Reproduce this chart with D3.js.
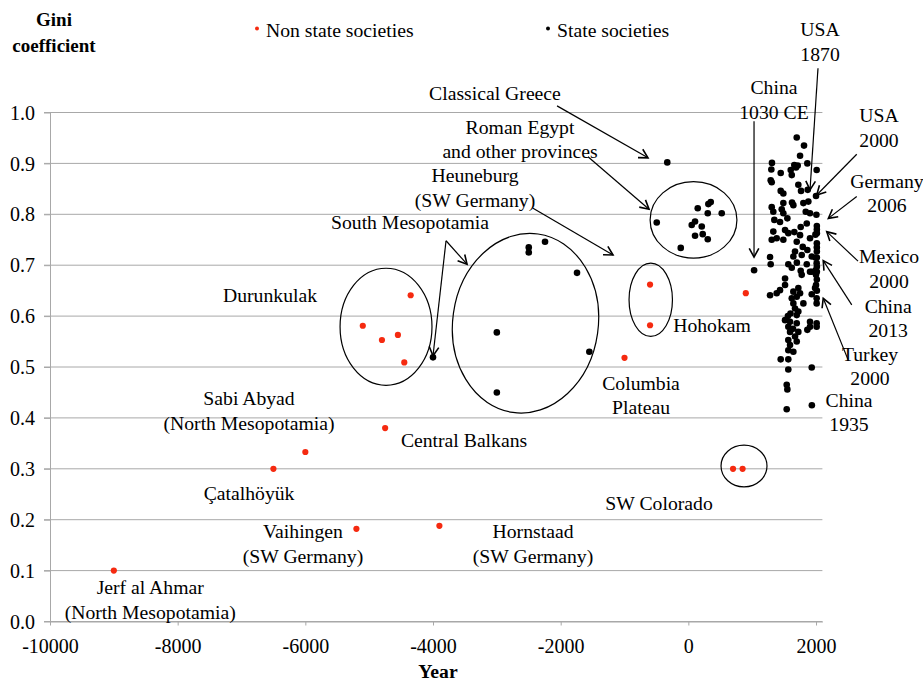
<!DOCTYPE html>
<html>
<head>
<meta charset="utf-8">
<script src="https://cdn.jsdelivr.net/npm/d3@7"></script>
<style>
  html, body { margin: 0; padding: 0; background: #fff; }
  svg { display: block; font-family: "Liberation Serif", "Times New Roman", serif; }
</style>
</head>
<body>
<svg id="chart" width="923" height="681"></svg>
<script>
// Gini coefficients of non state and state societies, by year
const xTicks = [-10000, -8000, -6000, -4000, -2000, 0, 2000];
const yTicks = [0, 0.1, 0.2, 0.3, 0.4, 0.5, 0.6, 0.7, 0.8, 0.9, 1.0];

// [year, gini]
const nonStateSocieties = [
  [-9000, 0.100], [-6500, 0.300], [-6000, 0.333], [-5200, 0.182],
  [-4750, 0.380], [-3900, 0.188],
  [-4350, 0.641], [-5100, 0.581], [-4800, 0.553], [-4550, 0.563], [-4450, 0.509],
  [-600, 0.662], [-600, 0.582], [-1000, 0.518], [900, 0.645],
  [700, 0.300], [850, 0.300]
];

const ancientStates = [
  [-330, 0.902],
  [-495, 0.784], [147, 0.812], [313, 0.820], [351, 0.824], [304, 0.802], [523, 0.802],
  [53, 0.779], [105, 0.786], [210, 0.776], [225, 0.761], [105, 0.758], [304, 0.751], [-119, 0.734],
  [-2245, 0.746], [-2500, 0.735], [-2500, 0.725], [-1744, 0.685], [-3000, 0.568],
  [-1551, 0.530], [-3000, 0.450], [-4000, 0.519],
  [1030, 0.690]
];

const modernStates = [
  [1698, 0.951], [1812, 0.935], [1750, 0.915], [1864, 0.900], [1660, 0.897], [1310, 0.901],
  [1300, 0.888], [1447, 0.881], [1604, 0.887], [1620, 0.877], [1687, 0.892], [1713, 0.896],
  [2010, 0.887], [1290, 0.867], [1306, 0.863], [1723, 0.858], [1765, 0.846], [1447, 0.846],
  [1488, 0.841], [1870, 0.848], [2000, 0.836], [1624, 0.823], [1645, 0.818], [1488, 0.822],
  [1880, 0.825], [1802, 0.822], [1306, 0.814], [1463, 0.810], [1331, 0.805], [1488, 0.802],
  [1839, 0.805], [1906, 0.802], [2006, 0.799], [1347, 0.789], [1436, 0.785], [1551, 0.792],
  [1855, 0.782], [2013, 0.777], [1331, 0.766], [1515, 0.769], [1566, 0.763], [1750, 0.759],
  [1906, 0.753], [2013, 0.763], [1384, 0.753], [1306, 0.750], [1488, 0.750], [1698, 0.746],
  [1792, 0.736], [1671, 0.727], [1864, 0.730], [2013, 0.743], [2013, 0.727], [1776, 0.720],
  [1933, 0.717], [1645, 0.717], [1280, 0.716], [1290, 0.702], [1566, 0.702], [1855, 0.702],
  [2010, 0.704], [1760, 0.689], [1933, 0.687], [2013, 0.687],
  [1515, 0.674], [1776, 0.681], [1906, 0.687], [2000, 0.681], [2000, 0.661], [1280, 0.641],
  [1384, 0.645], [1436, 0.651], [1515, 0.661], [1645, 0.648], [1723, 0.655], [1933, 0.643],
  [2010, 0.635], [1620, 0.635], [1698, 0.638], [1802, 0.625], [2010, 0.625], [1645, 0.625],
  [1671, 0.615], [1723, 0.609], [1698, 0.602], [1515, 0.592], [1593, 0.589], [1906, 0.589],
  [2010, 0.586], [1566, 0.579], [1698, 0.586], [1906, 0.579], [1864, 0.573], [2010, 0.579],
  [1593, 0.569], [1723, 0.569], [1671, 0.560], [1566, 0.553], [1698, 0.550], [1593, 0.543],
  [1566, 0.533], [1645, 0.530], [1447, 0.515], [1566, 0.515], [1566, 0.495], [1933, 0.499],
  [1541, 0.465], [1551, 0.456], [1541, 0.417], [1935, 0.425],
  [2013, 0.770], [2013, 0.735], [2013, 0.715], [2013, 0.697], [2013, 0.672], [2013, 0.650],
  [1990, 0.760], [1990, 0.715], [1995, 0.690], [1985, 0.655], [1660, 0.765], [1760, 0.775],
  [1620, 0.695], [1700, 0.705], [1750, 0.645], [1600, 0.605], [1640, 0.575], [1560, 0.600]
];
const stateSocieties = ancientStates.concat(modernStates);

// Circled groups: centre [year, gini], radii in years / gini, tilt in degrees
const groupRings = [
  { c: [-4736, 0.579], rx: 720, ry: 0.115, tilt: 0 },
  { c: [-2551, 0.586], rx: 1140, ry: 0.177, tilt: 8 },
  { c: [81, 0.789], rx: 680, ry: 0.075, tilt: 0 },
  { c: [-589, 0.632], rx: 340, ry: 0.072, tilt: 0 },
  { c: [872, 0.3055], rx: 360, ry: 0.041, tilt: 0 }
];

// Callout arrows: from [year, gini] to [year, gini]
const callouts = [
  { from: [-2057, 1.013], to: [-632, 0.911] },
  { from: [-1572, 0.913], to: [-616, 0.810] },
  { from: [-2433, 0.812], to: [-1180, 0.720] },
  { from: [-3796, 0.748], to: [-3467, 0.702] },
  { from: [-3796, 0.748], to: [-4000, 0.522] },
  { from: [1029, 0.983], to: [1029, 0.716] },
  { from: [2031, 1.087], to: [1906, 0.848] },
  { from: [2638, 0.918], to: [2011, 0.838] },
  { from: [2638, 0.835], to: [2193, 0.792] },
  { from: [2658, 0.708], to: [2168, 0.766] },
  { from: [2560, 0.622], to: [2113, 0.709] },
  { from: [2500, 0.515], to: [2113, 0.635] }
];

// Place names: anchor [year, gini] of the first baseline
const placeNames = [
  { at: [-3029, 1.025], lines: ["Classical Greece"] },
  { at: [-2637, 0.958], lines: ["Roman Egypt", "and other provinces"] },
  { at: [-3342, 0.863], lines: ["Heuneburg", "(SW Germany)"] },
  { at: [-4360, 0.771], lines: ["South Mesopotamia"] },
  { at: [-6553, 0.628], lines: ["Durunkulak"] },
  { at: [-6882, 0.425], lines: ["Sabi Abyad", "(North Mesopotamia)"] },
  { at: [-3514, 0.343], lines: ["Central Balkans"] },
  { at: [-6882, 0.239], lines: ["Çatalhöyük"] },
  { at: [-6037, 0.164], lines: ["Vaihingen", "(SW Germany)"] },
  { at: [-2433, 0.164], lines: ["Hornstaad", "(SW Germany)"] },
  { at: [-8430, 0.054], lines: ["Jerf al Ahmar", "(North Mesopotamia)"] },
  { at: [371, 0.569], lines: ["Hohokam"] },
  { at: [-741, 0.455], lines: ["Columbia", "Plateau"] },
  { at: [-459, 0.219], lines: ["SW Colorado"] },
  { at: [1342, 1.036], lines: ["China", "1030 CE"] },
  { at: [2063, 1.150], lines: ["USA", "1870"] },
  { at: [2987, 0.981], lines: ["USA", "2000"] },
  { at: [3112, 0.852], lines: ["Germany", "2006"] },
  { at: [3144, 0.704], lines: ["Mexico", "2000"] },
  { at: [3130, 0.607], lines: ["China", "2013"] },
  { at: [2846, 0.512], lines: ["Turkey", "2000"] },
  { at: [2517, 0.422], lines: ["China", "1935"] }
];

const svg = d3.select("#chart");
const FONT = 19.7;
const TICK_FONT = 20;
const GRID = "#a8a8a8";
const RED = "#f52a10";

const x = d3.scaleLinear().domain([-10000, 2100]).range([50, 822.4]);
const y = d3.scaleLinear().domain([0, 1]).range([621.5, 112.5]);

// horizontal gridlines
svg.append("g").selectAll("line").data(yTicks).join("line")
  .attr("x1", 44).attr("x2", x.range()[1])
  .attr("y1", d => y(d)).attr("y2", d => y(d))
  .attr("stroke", GRID).attr("stroke-width", 1);

// x axis
const gx = svg.append("g").attr("transform", `translate(0,${y(0)})`)
  .call(d3.axisBottom(x).tickValues(xTicks).tickSize(4).tickSizeOuter(0)
    .tickFormat(d => String(d)));
gx.select(".domain").attr("stroke", GRID);
gx.selectAll(".tick line").attr("stroke", GRID);
gx.selectAll("text").attr("y", 31.5).attr("dy", null)
  .attr("font-size", TICK_FONT).attr("font-family", "Liberation Serif").attr("fill", "#000");

// y axis
const gy = svg.append("g").attr("transform", `translate(${x(-10000)},0)`)
  .call(d3.axisLeft(y).tickValues(yTicks).tickSize(6).tickSizeOuter(0)
    .tickFormat(d3.format(".1f")));
gy.select(".domain").attr("stroke", GRID);
gy.selectAll(".tick line").attr("stroke", GRID);
gy.selectAll("text").attr("x", -15).attr("dy", "0.33em")
  .attr("font-size", TICK_FONT).attr("font-family", "Liberation Serif").attr("fill", "#000");

// axis titles
svg.append("text").attr("x", 438).attr("y", 678)
  .attr("text-anchor", "middle").attr("font-weight", "bold").attr("font-size", FONT)
  .text("Year");
svg.append("text").attr("x", 54).attr("text-anchor", "middle")
  .attr("font-weight", "bold").attr("font-size", 19)
  .selectAll("tspan").data(["Gini", "coefficient"]).join("tspan")
  .attr("x", 54).attr("y", (d, i) => 26 + i * 25.5).text(d => d);

// legend
const legend = [
  { label: "Non state societies", color: RED, x: 257 },
  { label: "State societies", color: "#000", x: 548 }
];
legend.forEach(l => {
  svg.append("circle").attr("cx", l.x).attr("cy", 28.5).attr("r", 2).attr("fill", l.color);
  svg.append("text").attr("x", l.x + 9).attr("y", 37).attr("font-size", FONT).text(l.label);
});

// ringed groups
svg.append("g").selectAll("ellipse").data(groupRings).join("ellipse")
  .attr("transform", d => `translate(${x(d.c[0])},${y(d.c[1])}) rotate(${d.tilt})`)
  .attr("rx", d => x(d.c[0] + d.rx) - x(d.c[0]))
  .attr("ry", d => y(0) - y(d.ry))
  .attr("fill", "none").attr("stroke", "#000").attr("stroke-width", 1.2);

// points
svg.append("g").selectAll("circle").data(stateSocieties).join("circle")
  .attr("cx", d => x(d[0])).attr("cy", d => y(d[1])).attr("r", 3.3).attr("fill", "#000");
svg.append("g").selectAll("circle").data(nonStateSocieties).join("circle")
  .attr("cx", d => x(d[0])).attr("cy", d => y(d[1])).attr("r", 3.1).attr("fill", RED);

// callout arrows with open heads
const ga = svg.append("g").attr("stroke", "#000").attr("fill", "none").attr("stroke-width", 1.2);
callouts.forEach(c => {
  const x1 = x(c.from[0]), y1 = y(c.from[1]), x2 = x(c.to[0]), y2 = y(c.to[1]);
  ga.append("line").attr("x1", x1).attr("y1", y1).attr("x2", x2).attr("y2", y2);
  const a = Math.atan2(y2 - y1, x2 - x1), len = 10, spread = 0.5;
  const p = s => [x2 - len * Math.cos(a + s), y2 - len * Math.sin(a + s)];
  const l = p(spread), r = p(-spread);
  ga.append("path").attr("d", `M${l[0]},${l[1]}L${x2},${y2}L${r[0]},${r[1]}`)
    .attr("stroke-width", 1.6);
});

// place names
const gl = svg.append("g").attr("font-size", FONT).attr("text-anchor", "middle");
placeNames.forEach(p => {
  const t = gl.append("text");
  p.lines.forEach((s, i) => {
    t.append("tspan").attr("x", x(p.at[0])).attr("y", y(p.at[1]) + i * 24.5).text(s);
  });
});
</script>
</body>
</html>
